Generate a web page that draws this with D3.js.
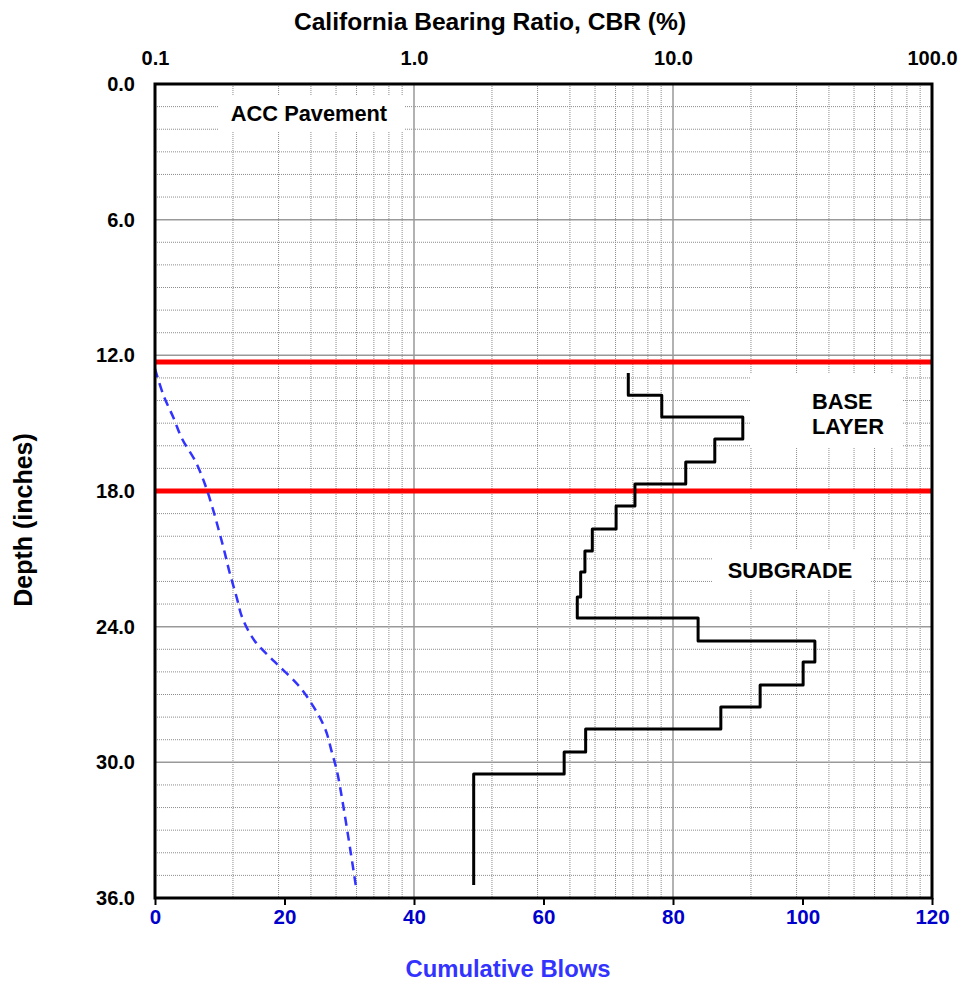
<!DOCTYPE html>
<html>
<head>
<meta charset="utf-8">
<script src="https://cdn.jsdelivr.net/npm/d3@7"></script>
<style>
  body { margin: 0; background: #fff; }
  svg { display: block; }
  text { font-family: "Liberation Sans", Arial, sans-serif; font-weight: bold; }
</style>
</head>
<body>
<svg width="969" height="981"></svg>
<script>
// axis ticks
const cbrTicks = [0.1, 1, 10, 100];
const depthTicks = [0, 6, 12, 18, 24, 30, 36];
const blowTicks = [0, 20, 40, 60, 80, 100, 120];

// layer boundaries (inches)
const layerDepths = [12.3, 18.0];

// DCP step profile: depth boundaries and CBR of each increment
const stepDepths = [12.78, 13.76, 14.73, 15.70, 16.72, 17.69, 18.66, 19.68, 20.65, 21.58,
                    22.69, 23.62, 24.63, 25.56, 26.58, 27.55, 28.53, 29.54, 30.52, 35.43];
const cbrValues = [6.72, 9.05, 18.6, 14.5, 11.2, 7.13, 6.03, 4.88, 4.57, 4.40,
                   4.27, 12.5, 35.3, 31.8, 21.7, 15.3, 4.60, 3.80, 1.70];

// cumulative blows vs depth
const blowDepths = [12.6, 13.76, 14.73, 15.70, 16.72, 17.69, 18.66, 19.68, 20.65, 21.58,
                    22.69, 23.62, 24.63, 25.56, 26.58, 27.55, 28.53, 29.54, 30.52, 35.43];
const cumBlows = [0, 1.3, 2.8, 4.2, 6.3, 7.7, 8.8, 9.8, 10.7, 11.5,
                  12.6, 13.5, 15.4, 18.5, 22.1, 24.5, 26.3, 27.3, 28.2, 31.0];

const layerLabels = [["ACC Pavement"], ["BASE", "LAYER"], ["SUBGRADE"]];

const svg = d3.select("svg");
const marginLeft = 155, marginTop = 84, width = 777, height = 814;

const x = d3.scaleLog().domain([0.1, 100]).range([0, width]);
const xb = d3.scaleLinear().domain([0, 120]).range([0, width]);
const y = d3.scaleLinear().domain([0, 36]).range([0, height]);

const g = svg.append("g").attr("transform", `translate(${marginLeft},${marginTop})`);

// minor grid
const minorDepths = d3.range(0, 37).filter(d => d % 6 !== 0);
g.append("g").selectAll("line").data(minorDepths).enter().append("line")
    .attr("x1", 0).attr("x2", width)
    .attr("y1", d => y(d)).attr("y2", d => y(d))
    .attr("stroke", "#8c8c8c").attr("stroke-width", 1).attr("stroke-dasharray", "1,1");

const minorCbr = x.ticks().filter(d => Math.abs(Math.log10(d) - Math.round(Math.log10(d))) > 1e-6);
g.append("g").selectAll("line").data(minorCbr).enter().append("line")
    .attr("x1", d => x(d)).attr("x2", d => x(d))
    .attr("y1", 0).attr("y2", height)
    .attr("stroke", "#8c8c8c").attr("stroke-width", 1).attr("stroke-dasharray", "1,1");

// major grid
g.append("g").selectAll("line").data(depthTicks.slice(1, -1)).enter().append("line")
    .attr("x1", 0).attr("x2", width)
    .attr("y1", d => y(d)).attr("y2", d => y(d))
    .attr("stroke", "#999").attr("stroke-width", 1.5);
g.append("g").selectAll("line").data(cbrTicks.slice(1, -1)).enter().append("line")
    .attr("x1", d => x(d)).attr("x2", d => x(d))
    .attr("y1", 0).attr("y2", height)
    .attr("stroke", "#999").attr("stroke-width", 1.5);

// label boxes
const boxes = [
    {x: 63, y: 11, w: 186, h: 36, tx: 154, anchor: "middle", base: 37},
    {x: 595, y: 289, w: 152, h: 74, tx: 657, anchor: "start", base: 325},
    {x: 558, y: 466, w: 157, h: 40, tx: 635, anchor: "middle", base: 494}
];
boxes.forEach((b, k) => {
    g.append("rect").attr("x", b.x).attr("y", b.y).attr("width", b.w).attr("height", b.h).attr("fill", "#fff");
    const t = g.append("text")
        .attr("x", b.tx).attr("y", b.base)
        .attr("text-anchor", b.anchor)
        .attr("font-size", 21.8).attr("fill", "#000");
    layerLabels[k].forEach((s, i) => t.append("tspan").attr("x", b.tx).attr("dy", i ? 25 : 0).text(s));
});

// layer lines
g.append("g").selectAll("line").data(layerDepths).enter().append("line")
    .attr("x1", 0).attr("x2", width)
    .attr("y1", d => y(d)).attr("y2", d => y(d))
    .attr("stroke", "#ff0000").attr("stroke-width", 5);

// cumulative blows
const blowPts = blowDepths.map((d, i) => [cumBlows[i], d]);
g.append("path").datum(blowPts)
    .attr("fill", "none").attr("stroke", "#3333ff").attr("stroke-width", 2.5)
    .attr("stroke-dasharray", "9,6")
    .attr("d", d3.line().x(d => xb(d[0])).y(d => y(d[1])).curve(d3.curveCatmullRom));

// CBR steps
const stepPts = [];
cbrValues.forEach((c, i) => {
    stepPts.push([c, stepDepths[i]]);
    stepPts.push([c, stepDepths[i + 1]]);
});
g.append("path").datum(stepPts)
    .attr("fill", "none").attr("stroke", "#000").attr("stroke-width", 3)
    .attr("stroke-linejoin", "round")
    .attr("d", d3.line().x(d => x(d[0])).y(d => y(d[1])));

// border
g.append("rect").attr("width", width).attr("height", height)
    .attr("fill", "none").attr("stroke", "#000").attr("stroke-width", 3);

// axes
const fmt = d3.format(".1f");
const leftAxis = g.append("g").call(d3.axisLeft(y).tickValues(depthTicks).tickFormat(fmt).tickSize(0).tickPadding(20));
const topAxis = g.append("g").call(d3.axisTop(x).tickValues(cbrTicks).tickFormat(fmt).tickSize(0).tickPadding(19));
const bottomAxis = g.append("g").attr("transform", `translate(0,${height})`)
    .call(d3.axisBottom(xb).tickValues(blowTicks).tickSize(7).tickPadding(4));

[leftAxis, topAxis, bottomAxis].forEach(a => {
    a.select(".domain").remove();
    a.selectAll("text").attr("font-size", 20).attr("font-family", null).attr("fill", "#000");
});
bottomAxis.selectAll("line").attr("stroke", "#000").attr("stroke-width", 2);
bottomAxis.selectAll("text").attr("fill", "#0000cc").attr("font-size", 20.5);

// titles
svg.append("text").attr("x", 490).attr("y", 30)
    .attr("text-anchor", "middle").attr("font-size", 24.6).attr("fill", "#000")
    .text("California Bearing Ratio, CBR (%)");
svg.append("text").attr("x", 508).attr("y", 977)
    .attr("text-anchor", "middle").attr("font-size", 23.8).attr("fill", "#3333ff")
    .text("Cumulative Blows");
svg.append("text").attr("transform", "translate(32,520) rotate(-90)")
    .attr("text-anchor", "middle").attr("font-size", 25).attr("fill", "#000")
    .text("Depth (inches)");
</script>
</body>
</html>
